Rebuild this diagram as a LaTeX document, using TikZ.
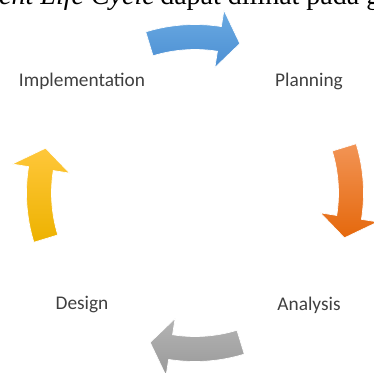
\documentclass[tikz,border=0pt]{standalone}
\usepackage{fontspec}
\setmainfont{Carlito}
\newfontfamily\bookfont{Liberation Serif}
\usetikzlibrary{calc}

\definecolor{phasegray}{HTML}{3F3F3F}
\definecolor{blueT}{HTML}{6AAAE2}
\definecolor{blueB}{HTML}{4C8FD3}
\definecolor{orangeT}{HTML}{F29455}
\definecolor{orangeB}{HTML}{E5680C}
\definecolor{grayT}{HTML}{B4B4B4}
\definecolor{grayB}{HTML}{999999}
\definecolor{yellowT}{HTML}{FFC73A}
\definecolor{yellowB}{HTML}{EDB200}

\begin{document}
\begin{tikzpicture}[x=0.75pt, y=0.75pt,
    phase/.style={font=\fontsize{14.5}{16}\selectfont, text=phasegray, inner sep=0pt},
    bodytext/.style={font=\bookfont\fontsize{21}{24}\selectfont, inner sep=0pt},
    cyclearrow/.style={draw=white, line width=0.5pt}]
  \useasboundingbox (0,0) rectangle (374,372);
  \clip (0,0) rectangle (374,372);

  % the cut-off line of text above the figure
  \node[bodytext, anchor=base east, font=\bookfont\itshape\fontsize{21}{24}\selectfont] (captionit) at (155,367) {Development Life Cycle};
  \node[bodytext, anchor=base west] (captionrm) at (160,367) {dapat dilihat pada gambar};

  % the four phases
  \node[phase] (impl) at (82,291) {Implementation};
  \node[phase] (plan) at (309,291) {Planning};
  \node[phase] (anal) at (309,67) {Analysis};
  \node[phase] (desg) at (82,67) {Design};

  % curved arrows between them, clockwise round the centre
  \foreach \a/\tc/\bc in {90/blueT/blueB, 0/orangeT/orangeB, 270/grayT/grayB, 180/yellowT/yellowB}{
    \shade[cyclearrow, top color=\tc, bottom color=\bc, shift={(195,179)}]
      (\a+17:168.5) arc[start angle=\a+17, end angle=\a-9, radius=168.5]
      -- (\a-9:185) -- (\a-16.7:156) -- (\a-9:127) -- (\a-9:143.5)
      arc[start angle=\a-9, end angle=\a+17, radius=143.5] -- cycle;
  }
\end{tikzpicture}
\end{document}
